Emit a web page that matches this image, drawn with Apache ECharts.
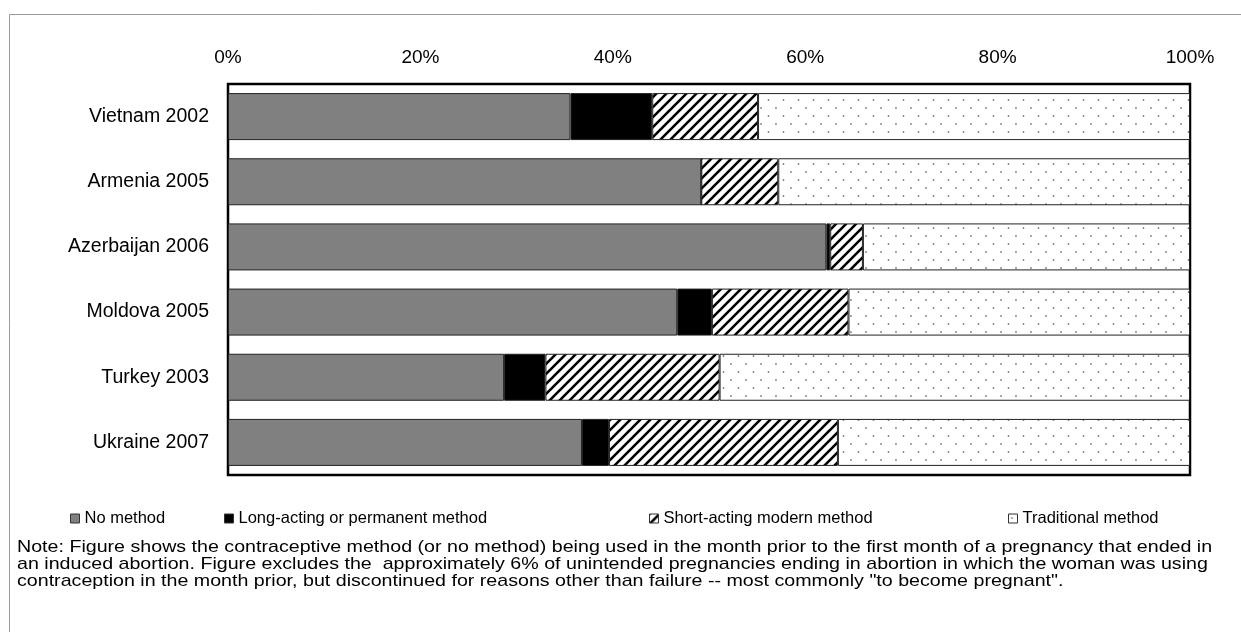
<!DOCTYPE html>
<html>
<head>
<meta charset="utf-8">
<script src="https://cdn.jsdelivr.net/npm/echarts@6/dist/echarts.min.js"></script>
<style>
html,body{margin:0;padding:0;background:#fff;}
#chart{width:1241px;height:632px;}
</style>
</head>
<body>
<div id="chart"></div>
<script>
// ---- data (percent) ----
const categories = ['Vietnam 2002', 'Armenia 2005', 'Azerbaijan 2006', 'Moldova 2005', 'Turkey 2003', 'Ukraine 2007'];
const seriesNames = ['No method', 'Long-acting or permanent method', 'Short-acting modern method', 'Traditional method'];
const noMethod    = [35.6, 49.2, 62.2, 46.7, 28.7, 36.8];
const longActing  = [8.5, 0.0, 0.4, 3.6, 4.3, 2.8];
const shortActing = [11.0, 8.0, 3.4, 14.2, 18.1, 23.8];
const traditional = [44.9, 42.8, 34.0, 35.5, 48.9, 36.6];
const xTicks = [0, 20, 40, 60, 80, 100];
const noteLines = [
  'Note: Figure shows the contraceptive method (or no method) being used in the month prior to the first month of a pregnancy that ended in',
  'an induced abortion. Figure excludes the  approximately 6% of unintended pregnancies ending in abortion in which the woman was using',
  'contraception in the month prior, but discontinued for reasons other than failure -- most commonly "to become pregnant".'
];

// ---- patterns ----
function stripePattern() {
  const c = document.createElement('canvas');
  c.width = 10; c.height = 10;
  const g = c.getContext('2d');
  g.fillStyle = '#fff'; g.fillRect(0, 0, 10, 10);
  g.strokeStyle = '#000'; g.lineWidth = 2.6;
  g.beginPath();
  g.moveTo(-2, 12); g.lineTo(12, -2);
  g.moveTo(-2, 2); g.lineTo(2, -2);
  g.moveTo(8, 12); g.lineTo(12, 8);
  g.stroke();
  return c;
}
function dotPattern() {
  const c = document.createElement('canvas');
  c.width = 15; c.height = 16;
  const g = c.getContext('2d');
  g.fillStyle = '#fff'; g.fillRect(0, 0, 15, 16);
  g.fillStyle = '#555';
  g.beginPath(); g.arc(3.5, 4, 0.85, 0, Math.PI * 2); g.fill();
  g.beginPath(); g.arc(11, 12, 0.85, 0, Math.PI * 2); g.fill();
  return c;
}
const fills = [
  '#808080',
  '#000000',
  { image: stripePattern(), repeat: 'repeat' },
  { image: dotPattern(), repeat: 'repeat' }
];
const values = [noMethod, longActing, shortActing, traditional];

const FONT = 'Liberation Sans, Arial, sans-serif';
const chart = echarts.init(document.getElementById('chart'), null, { renderer: 'canvas' });

const legendLeft = [65, 219, 644, 1003];

const option = {
  backgroundColor: '#fff',
  animation: false,
  grid: {
    left: 228, right: 51, top: 84, bottom: 157,
    show: true, borderColor: '#000', borderWidth: 2.5, backgroundColor: '#fff'
  },
  xAxis: {
    type: 'value', position: 'top', min: 0, max: 100, interval: 20,
    axisLine: { show: false }, axisTick: { show: false }, splitLine: { show: false },
    axisLabel: { formatter: v => xTicks.includes(v) ? v + '%' : '', color: '#000', fontSize: 19, fontFamily: FONT, margin: 17 }
  },
  yAxis: {
    type: 'category', data: categories, inverse: true,
    axisLine: { show: false }, axisTick: { show: false },
    axisLabel: { color: '#000', fontSize: 19.5, fontFamily: FONT, margin: 19 }
  },
  legend: seriesNames.map((n, i) => ({
    data: [n], left: legendLeft[i], top: 505, itemWidth: 9, itemHeight: 9, itemGap: 0,
    icon: 'rect', selectedMode: false,
    textStyle: { color: '#000', fontSize: 16.5, fontFamily: FONT },
    itemStyle: { borderColor: '#333', borderWidth: 1 }
  })),
  series: seriesNames.map((n, i) => ({
    name: n, type: 'bar', stack: 'total', barWidth: 47,
    data: values[i],
    itemStyle: { color: fills[i], borderColor: '#222', borderWidth: 1 },
    emphasis: { disabled: true }
  })),
  graphic: [
    {
      type: 'rect', silent: true, z: -10,
      shape: { x: 9.5, y: 14.5, width: 1400, height: 800 },
      style: { fill: 'none', stroke: '#9a9a9a', lineWidth: 1 }
    },
    {
      type: 'text', x: 17, y: 539, scaleX: 1.155, scaleY: 1, silent: true,
      style: { text: noteLines.join('\n'), font: '17px ' + FONT, fill: '#000', lineHeight: 17 }
    }
  ]
};
chart.setOption(option);
</script>
</body>
</html>
